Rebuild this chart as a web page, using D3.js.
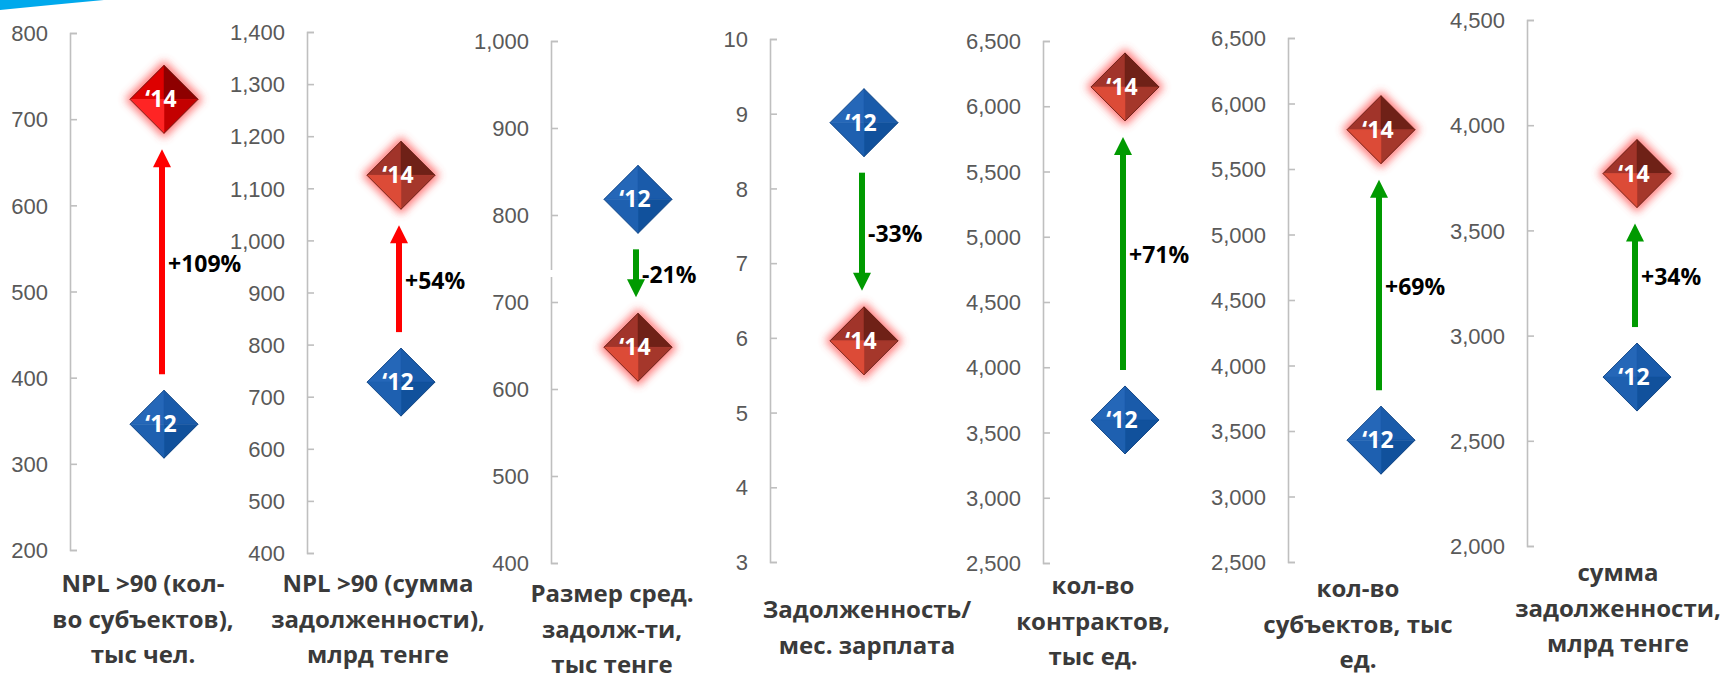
<!DOCTYPE html>
<html>
<head>
  <meta charset="utf-8">
  <title>NPL 2012 vs 2014</title>
  <script src="https://cdn.jsdelivr.net/npm/d3@7"></script>
  <style>
    html, body { margin: 0; padding: 0; background: #fff; }
    svg { display: block; font-family: "Open Sans", "Noto Sans", sans-serif; }
    .tick text { fill: #595959; font-size: 22px; }
    .tick line, .domain { stroke: #BFBFBF; stroke-width: 1.6; }
    .cat { fill: #3A3A3A; font-size: 24px; font-weight: bold; }
    .pct { fill: #000; font-size: 23px; font-weight: bold; }
    .yr  { fill: #fff; font-size: 23px; font-weight: bold; }
  </style>
</head>
<body>
<svg id="chart" width="1723" height="676"></svg>
<script>

  //--- data
  var categories = [
    ["NPL >90 (кол-", "во субъектов),", "тыс чел."],
    ["NPL >90 (сумма", "задолженности),", "млрд тенге"],
    ["Размер сред.", "задолж-ти,", "тыс тенге"],
    ["Задолженность/", "мес. зарплата"],
    ["кол-во", "контрактов,", "тыс ед."],
    ["кол-во", "субъектов, тыс", "ед."],
    ["сумма", "задолженности,", "млрд тенге"]
  ];
  var values2012 = [346, 728, 818, 8.88, 3596, 3430, 2803];
  var values2014 = [723, 1125, 648, 5.96, 6148, 5800, 3770];
  var changeLabels = ["+109%", "+54%", "-21%", "-33%", "+71%", "+69%", "+34%"];
  var axisDomains = [[200, 800], [400, 1400], [400, 1000], [3, 10], [2500, 6500], [2500, 6500], [2000, 4500]];
  var tickSteps = [100, 100, 100, 1, 500, 500, 500];
  var yearLabels = ["‘12", "‘14"];

  //--- layout (pixel positions per panel)
  var axisX   = [70, 307, 551, 770, 1043, 1288, 1527];
  var markX   = [164, 401, 638, 864, 1125, 1381, 1637];
  var yTop    = [33, 32, 41, 39, 41, 38, 20];
  var yBottom = [550, 553, 563, 562, 563, 562, 546];
  var labelX  = [143, 378, 612, 867, 1093, 1358, 1618];
  var labelY  = [584, 584, 594, 610, 586, 589, 573];
  var brightRed = [true, false, false, false, false, false, false];

  var svg = d3.select("#chart");
  var defs = svg.append("defs");
  defs.append("filter").attr("id", "glow")
      .attr("x", "-50%").attr("y", "-50%").attr("width", "200%").attr("height", "200%")
    .append("feGaussianBlur").attr("stdDeviation", 4);

  // blue corner swoosh
  svg.append("path")
    .attr("d", "M0,0 L104,0 Q50,5 0,10 Z")
    .attr("fill", "#00A9EC");

  var half = 34;   // half diagonal of a diamond
  var blueFacets = ["#2567B8", "#1A5BAA", "#11519C", "#1E60B0"];       // TL, TR, BR, BL
  var redFacets  = ["#A1342A", "#6F2117", "#A5372B", "#DC4B37"];
  var brightFacets = ["#DD0000", "#8E0000", "#C40000", "#FF2424"];

  function diamond(g, cx, cy, facets, glow, label) {
    var L = [cx - half, cy], T = [cx, cy - half], R = [cx + half, cy], B = [cx, cy + half], C = [cx, cy];
    if (glow) {
      g.append("path")
        .attr("d", "M" + [cx - half - 5, cy] + "L" + [cx, cy - half - 5] + "L" + [cx + half + 5, cy] + "L" + [cx, cy + half + 5] + "Z")
        .attr("fill", "#FF4A4A").attr("opacity", 0.75)
        .attr("filter", "url(#glow)");
    }
    var tris = [[L, T, C], [T, R, C], [R, B, C], [B, L, C]];
    g.selectAll(null).data(tris).enter().append("path")
      .attr("d", function (d) { return "M" + d.join("L") + "Z"; })
      .attr("fill", function (d, i) { return facets[i]; })
      .attr("stroke", function (d, i) { return facets[i]; })
      .attr("stroke-width", 0.5);
    g.append("path")
      .attr("d", "M" + [L, T, R, B].join("L") + "Z")
      .attr("fill", "none")
      .attr("stroke", glow ? "#5A1A12" : "#0C3F7C")
      .attr("stroke-width", 0.8);
    g.append("text").attr("class", "yr")
      .attr("x", cx - 3).attr("y", cy + 8)
      .attr("text-anchor", "middle")
      .text(label);
  }

  categories.forEach(function (cat, i) {
    var y = d3.scaleLinear().domain(axisDomains[i]).range([yBottom[i], yTop[i]]);
    var ticks = d3.range(axisDomains[i][0], axisDomains[i][1] + tickSteps[i] / 2, tickSteps[i]);

    var ax = svg.append("g")
      .attr("transform", "translate(" + axisX[i] + ",0)")
      .call(d3.axisLeft(y).tickValues(ticks).tickFormat(d3.format(","))
            .tickSizeInner(-7).tickSizeOuter(-7).tickPadding(22));
    ax.selectAll(".tick text").attr("dy", "0.35em");

    // the little break in the third axis
    if (i === 2) {
      svg.append("rect").attr("x", axisX[i] - 3).attr("y", 270).attr("width", 6).attr("height", 7).attr("fill", "#fff");
    }

    // arrow between the two years
    var up = values2014[i] > values2012[i];
    var col = brightRed[i] || i === 1 ? "#FF0000" : "#009A00";
    var gap = 50, head = 18;
    var y0 = y(values2012[i]) + (up ? -gap : gap);
    var y1 = y(values2014[i]) + (up ? gap : -gap);
    var ax0 = markX[i] - 2;
    var dir = up ? 1 : -1;
    svg.append("line")
      .attr("x1", ax0).attr("x2", ax0)
      .attr("y1", y0).attr("y2", y1 + dir * (head - 2))
      .attr("stroke", col).attr("stroke-width", 6);
    svg.append("path")
      .attr("d", "M" + [ax0, y1] + "L" + [ax0 - 9, y1 + dir * head] + "L" + [ax0 + 9, y1 + dir * head] + "Z")
      .attr("fill", col);
    svg.append("text").attr("class", "pct")
      .attr("x", ax0 + 6).attr("y", (y0 + y1) / 2 + 10)
      .text(changeLabels[i]);

    // markers
    var g = svg.append("g");
    diamond(g, markX[i], y(values2012[i]), blueFacets, false, yearLabels[0]);
    diamond(g, markX[i], y(values2014[i]), brightRed[i] ? brightFacets : redFacets, true, yearLabels[1]);

    // category label
    svg.append("text").attr("class", "cat")
      .attr("text-anchor", "middle")
      .selectAll("tspan").data(cat).enter().append("tspan")
      .attr("x", labelX[i])
      .attr("y", function (d, k) { return labelY[i] + 8 + k * 35.5; })
      .text(function (d) { return d; });
  });

</script>
</body>
</html>
